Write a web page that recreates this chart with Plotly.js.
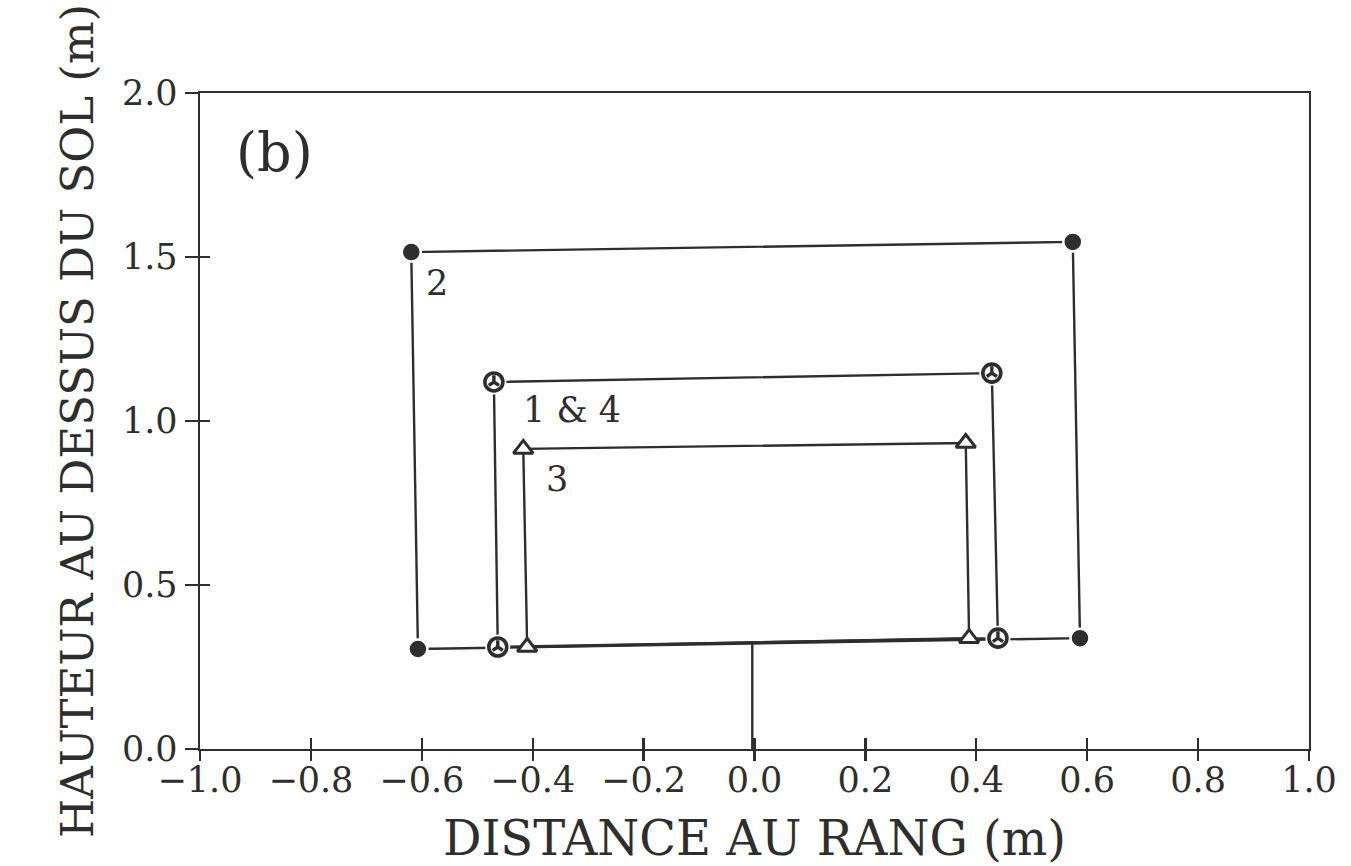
<!DOCTYPE html>
<html>
<head>
<meta charset="utf-8">
<script src="https://cdn.plot.ly/plotly-3.0.1.min.js"></script>
<style>html,body{margin:0;padding:0;background:#fff;}#chart{width:1351px;height:866px;}</style>
</head>
<body>
<div id="chart"></div>
<script>
// Corner points of each rectangle, path order: bottom-left, top-left, top-right, bottom-right
const s2X  = [-0.607, -0.619, 0.574, 0.587];
const s2Y  = [0.305, 1.515, 1.546, 0.338];
const s14X = [-0.463, -0.470, 0.428, 0.439];
const s14Y = [0.311, 1.119, 1.146, 0.338];
const s3X  = [-0.410, -0.417, 0.381, 0.387];
const s3Y  = [0.311, 0.915, 0.933, 0.338];
// Row (rang) stem
const stemX = [-0.004, -0.004];
const stemY = [0.0, 0.323];
// Ticks
const xTicks = [-1.0, -0.8, -0.6, -0.4, -0.2, 0.0, 0.2, 0.4, 0.6, 0.8, 1.0];
const yTicks = [0.0, 0.5, 1.0, 1.5, 2.0];
// Labels
const seriesLabels = ['2', '1 & 4', '3'];
const panelLabel = '(b)';

const ink = '#2e2e2e';
const fontFam = 'DejaVu Serif, Liberation Serif, serif';

function closed(a) { return a.concat([a[0]]); }

const traces = [];
function rect(xs, ys) {
  traces.push({x: closed(xs), y: closed(ys), mode: 'lines', type: 'scatter',
    line: {color: ink, width: 2.4}, hoverinfo: 'skip'});
}
rect(s2X, s2Y); rect(s14X, s14Y); rect(s3X, s3Y);

traces.push({x: stemX, y: stemY, xaxis: 'x2', yaxis: 'y2', mode: 'lines', type: 'scatter',
  line: {color: ink, width: 2.4}});

traces.push({x: s2X, y: s2Y, mode: 'markers', type: 'scatter', name: '2',
  marker: {symbol: 'circle', size: 19, color: ink, line: {color: '#fff', width: 2.5}}});
traces.push({x: s14X, y: s14Y, mode: 'markers', type: 'scatter', name: '1',
  marker: {symbol: 'circle', size: 23, color: '#fff', line: {color: '#fff', width: 2}}});
traces.push({x: s14X, y: s14Y, mode: 'markers', type: 'scatter', name: '1',
  marker: {symbol: 'circle-open', size: 18, color: ink, line: {color: ink, width: 3.6}}});
traces.push({x: s14X, y: s14Y, mode: 'markers', type: 'scatter', name: '4',
  marker: {symbol: 'y-up', size: 8.5, color: ink, line: {color: ink, width: 3.4}}});
traces.push({x: s3X, y: s3Y, mode: 'markers', type: 'scatter', name: '3',
  marker: {symbol: 'triangle-up', size: 17, color: '#fff', line: {color: ink, width: 3}}});

const tickFont = {size: 35, family: fontFam, color: ink};

const layout = {
  width: 1351, height: 866,
  margin: {l: 200, r: 42, t: 93, b: 117},
  paper_bgcolor: '#fff', plot_bgcolor: '#fff',
  showlegend: false,
  font: {family: fontFam, color: ink},
  xaxis: {
    range: [-1, 1], tickvals: xTicks, tickformat: '.1f',
    ticks: 'inside', ticklen: 11, tickwidth: 2.2, tickcolor: ink,
    ticklabelstandoff: -1,
    showline: true, linewidth: 2.4, linecolor: ink, mirror: true,
    showgrid: false, zeroline: false,
    tickfont: tickFont,
    title: {text: 'DISTANCE AU RANG (m)', font: {size: 48, family: fontFam, color: ink}, standoff: 22}
  },
  xaxis2: {
    range: [-1, 1], overlaying: 'x', anchor: 'y2', side: 'bottom', tickvals: xTicks,
    ticks: 'outside', ticklen: 11, tickwidth: 2.2, tickcolor: ink,
    showticklabels: false, showline: false, showgrid: false, zeroline: false
  },
  yaxis: {
    range: [0, 2], tickvals: yTicks, tickformat: '.1f',
    ticks: 'outside', ticklen: 13, tickwidth: 2.2, tickcolor: ink,
    showline: true, linewidth: 2.4, linecolor: ink, mirror: true,
    showgrid: false, zeroline: false,
    tickfont: tickFont,
    title: {text: 'HAUTEUR AU DESSUS DU SOL (m)', font: {size: 45, family: fontFam, color: ink}, standoff: 14}
  },
  yaxis2: {
    range: [0, 2], overlaying: 'y', anchor: 'x2', side: 'left', tickvals: yTicks,
    ticks: 'inside', ticklen: 10, tickwidth: 2.2, tickcolor: ink,
    showticklabels: false, showline: false, showgrid: false, zeroline: false
  },
  annotations: [
    {x: -0.866, y: 1.82, xref: 'x', yref: 'y', text: panelLabel, showarrow: false,
     font: {size: 54, family: fontFam, color: ink}},
    {x: -0.573, y: 1.42, xref: 'x', yref: 'y', text: seriesLabels[0], showarrow: false,
     font: {size: 35, family: fontFam, color: ink}},
    {x: -0.33, y: 1.033, xref: 'x', yref: 'y', text: seriesLabels[1], showarrow: false,
     font: {size: 35, family: fontFam, color: ink}},
    {x: -0.356, y: 0.823, xref: 'x', yref: 'y', text: seriesLabels[2], showarrow: false,
     font: {size: 35, family: fontFam, color: ink}}
  ]
};

Plotly.newPlot('chart', traces, layout, {displayModeBar: false, staticPlot: true});
</script>
</body>
</html>
